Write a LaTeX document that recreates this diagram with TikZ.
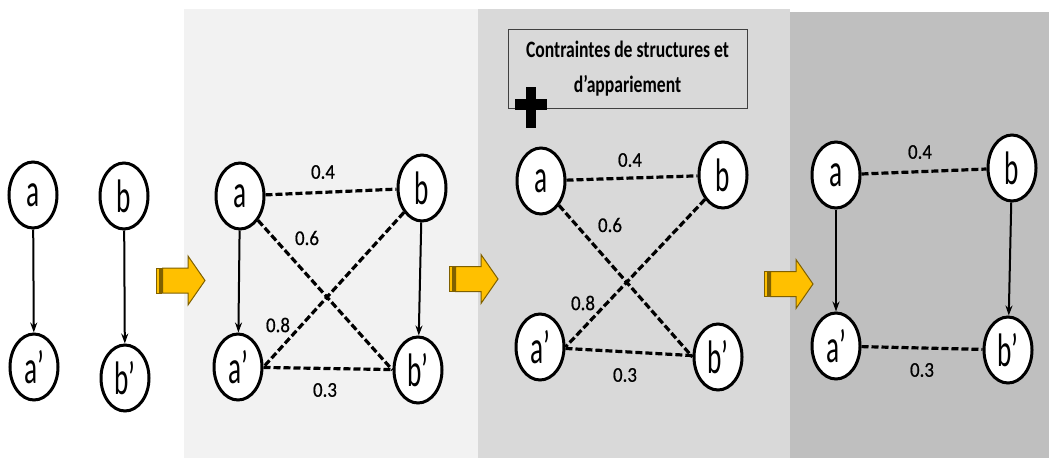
\documentclass[tikz,border=0pt]{standalone}
\usepackage{fontspec}
\setmainfont{Carlito}
\newfontfamily\vertexfont[FakeStretch=0.58]{Carlito}
\newfontfamily\weightfont[FakeStretch=0.9, FakeBold=0.6]{Carlito}
\newfontfamily\boxfont[FakeStretch=0.75]{Carlito}
\usetikzlibrary{arrows.meta, shapes.geometric}
\definecolor{panelA}{HTML}{F2F2F2}
\definecolor{panelB}{HTML}{D9D9D9}
\definecolor{panelC}{HTML}{BFBFBF}
\definecolor{arrowfill}{HTML}{FFC000}
\definecolor{arrowline}{HTML}{7F6000}
\definecolor{boxline}{HTML}{404040}

\tikzset{
  vertex/.style={ellipse, draw, line width=3pt, fill=white, minimum width=48pt,
    minimum height=66pt, inner sep=0pt, font=\vertexfont\fontsize{47}{47}\selectfont},
  link/.style={-{Stealth[length=10pt,width=7pt]}, line width=2pt},
  match/.style={dash pattern=on 7pt off 3pt, line width=3.2pt},
  weight/.style={inner sep=0pt, font=\weightfont\fontsize{21}{21}\selectfont},
}

% yellow step arrow: tail x, middle y
\newcommand{\goarrow}[2]{%
  \begin{scope}[shift={(#1,#2)}, fill=arrowfill, draw=arrowline, line width=1pt]
    \filldraw (0,-12.5) rectangle (3,12.5);
    \filldraw (4,-12.5) rectangle (5.5,12.5);
    \filldraw (6.5,-12.5) -- (32,-12.5) -- (32,-24.5) -- (49,0) -- (32,24.5)
      -- (32,12.5) -- (6.5,12.5) -- cycle;
  \end{scope}}

\begin{document}
\begin{tikzpicture}[x=1pt, y=-1pt]
  \useasboundingbox (0,0) rectangle (1049,458);

  % background panels
  \fill[panelA] (184,9) rectangle (478,458);
  \fill[panelB] (478,9) rectangle (790,458);
  \fill[panelC] (790,12) rectangle (1049,458);

  % step 1: the two structures
  \node[vertex] (a1)  at (33,195)  {a};
  \node[vertex] (b1)  at (124,196) {b};
  \node[vertex] (a1p) at (34,367)  {a’};
  \node[vertex] (b1p) at (125,378) {b’};
  \draw[link] (a1) -- (a1p);
  \draw[link] (b1) -- (b1p);

  \goarrow{156}{280.5}

  % step 2: all pairings
  \node[vertex] (a2)  at (240,196) {a};
  \node[vertex] (b2)  at (422,188) {b};
  \node[vertex] (a2p) at (238,367) {a’};
  \node[vertex] (b2p) at (418,370) {b’};
  \draw[link] (a2) -- (a2p);
  \draw[link] (b2) -- (b2p);
  \draw[match] (a2) -- (b2);
  \draw[match] (a2.south east) -- (b2p.west);
  \draw[match] (b2.south west) -- (a2p.east);
  \draw[match] (a2p) -- (b2p);
  \node[weight] (w2ab)   at (323,172) {0.4};
  \node[weight] (w2abp)  at (307,238) {0.6};
  \node[weight] (w2bap)  at (278,325) {0.8};
  \node[weight] (w2apbp) at (325,390) {0.3};

  \goarrow{449}{279}

  % step 3: constraints
  \node[draw=boxline, line width=0.8pt, minimum width=239pt, minimum height=79pt,
    align=center, font=\boxfont\bfseries\fontsize{23.5}{35}\selectfont] (cons)
    at (627.5,68.5) {Contraintes de structures et\\d’appariement};
  \fill (526,87) rectangle (536,128);
  \fill (515,99) rectangle (547,110);

  \node[vertex] (a3)  at (541,181) {a};
  \node[vertex] (b3)  at (723,175) {b};
  \node[vertex] (a3p) at (540,347) {a’};
  \node[vertex] (b3p) at (718,357) {b’};
  \draw[match] (a3) -- (b3);
  \draw[match] (a3.south east) -- (b3p.west);
  \draw[match] (b3.south west) -- (a3p.east);
  \draw[match] (a3p) -- (b3p);
  \node[weight] (w3ab)   at (630,160) {0.4};
  \node[weight] (w3abp)  at (610,225) {0.6};
  \node[weight] (w3bap)  at (583,303) {0.8};
  \node[weight] (w3apbp) at (625,375) {0.3};

  \goarrow{764}{284}

  % step 4: kept pairing
  \node[vertex] (a4)  at (836,175)  {a};
  \node[vertex] (b4)  at (1012,168) {b};
  \node[vertex] (a4p) at (836,346)  {a’};
  \node[vertex] (b4p) at (1008,350) {b’};
  \draw[link] (a4) -- (a4p);
  \draw[link] (b4) -- (b4p);
  \draw[match] (a4) -- (b4);
  \draw[match] (a4p) -- (b4p);
  \node[weight] (w4ab)   at (920,152) {0.4};
  \node[weight] (w4apbp) at (922,370) {0.3};
\end{tikzpicture}
\end{document}
